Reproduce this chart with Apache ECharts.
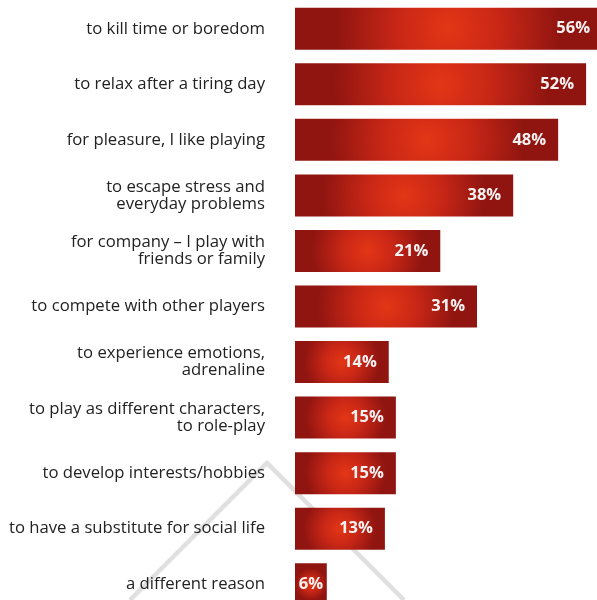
<!DOCTYPE html>
<html>
<head>
<meta charset="utf-8">
<script src="https://cdn.jsdelivr.net/npm/echarts@6/dist/echarts.min.js"></script>
<style>
html,body{margin:0;padding:0;background:#fff;}
#chart{width:597px;height:600px;}
</style>
</head>
<body>
<div id="chart"></div>
<script>
// Categories (top to bottom)
const categories = [
  'to kill time or boredom',
  'to relax after a tiring day',
  'for pleasure, I like playing',
  'to escape stress and\neveryday problems',
  'for company \u2013 I play with\nfriends or family',
  'to compete with other players',
  'to experience emotions,\nadrenaline',
  'to play as different characters,\nto role-play',
  'to develop interests/hobbies',
  'to have a substitute for social life',
  'a different reason'
];
// Printed percentage values
const shares = [56, 52, 48, 38, 21, 31, 14, 15, 15, 13, 6];
// Bar extents as drawn in the source picture (same % scale)
const barLengths = [56, 53.1, 48.0, 39.8, 26.5, 33.2, 17.1, 18.4, 18.4, 16.4, 5.8];
const axisMax = 56;

const chart = echarts.init(document.getElementById('chart'), null, {renderer: 'canvas'});
const gridLeft = 295, gridRight = -5;
const gridWidth = 597 - gridLeft - gridRight;
const barH = 42;

function barColor(v) {
  const w = v / axisMax * gridWidth;
  const rPx = 0.35 * w + 5;
  const r = rPx / Math.min(w, barH);
  return new echarts.graphic.RadialGradient(0.5, 0.5, r, [
    {offset: 0, color: '#e33616'},
    {offset: 0.45, color: '#c92716'},
    {offset: 1, color: '#901510'}
  ]);
}

const data = barLengths.map((v, i) => {
  const item = {value: v, itemStyle: {color: barColor(v)}};
  if (i === barLengths.length - 1) item.label = {position: 'inside'};
  return item;
});

chart.setOption({
  animation: false,
  backgroundColor: '#ffffff',
  grid: {left: gridLeft, right: gridRight, top: 1, bottom: -12, outerBoundsMode: 'none', containLabel: false},
  xAxis: {type: 'value', min: 0, max: axisMax, show: false},
  yAxis: {
    type: 'category',
    data: categories,
    inverse: true,
    axisLine: {show: false},
    axisTick: {show: false},
    splitLine: {show: false},
    axisLabel: {
      margin: 30,
      fontFamily: 'Open Sans',
      fontSize: 16.7,
      lineHeight: 17,
      color: '#222222',
      align: 'right'
    }
  },
  graphic: [{
    type: 'polyline',
    z: -10,
    silent: true,
    shape: {points: [[130, 600], [267, 463], [404, 600]]},
    style: {stroke: '#e0e0e0', lineWidth: 4.5, fill: null}
  }],
  series: [{
    type: 'bar',
    data: data,
    barWidth: barH,
    z: 5,
    label: {
      show: true,
      position: 'insideRight',
      distance: 12,
      fontFamily: 'Open Sans',
      fontWeight: 'bold',
      fontSize: 16.5,
      color: '#f7f2f2',
      formatter: p => shares[p.dataIndex] + '%'
    }
  }]
});
</script>
</body>
</html>
